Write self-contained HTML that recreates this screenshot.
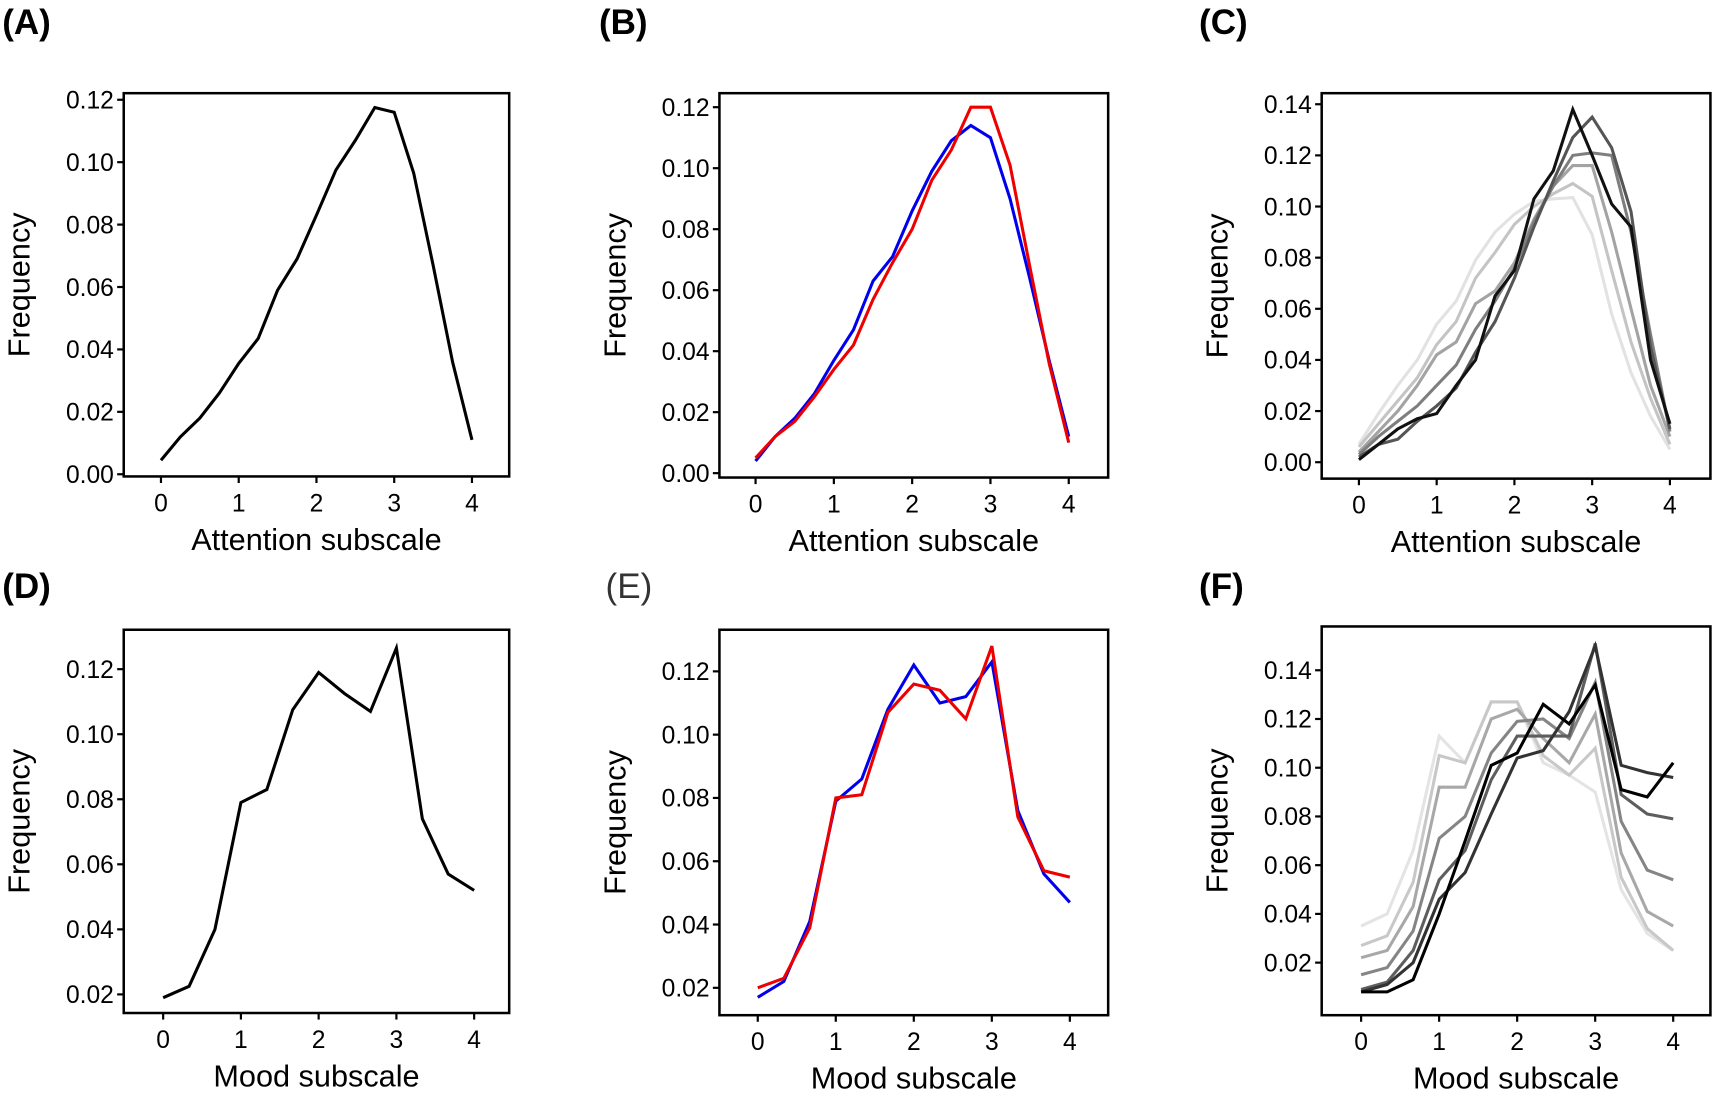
<!DOCTYPE html>
<html><head><meta charset="utf-8"><style>
html,body{margin:0;padding:0;background:#fff;}
svg{display:block;font-family:"Liberation Sans",Arial,sans-serif;}
</style></head><body>
<svg id="fig" width="1717" height="1104" viewBox="0 0 1568 1008" xmlns="http://www.w3.org/2000/svg"></svg>
<script>
const xAtt = [0,0.25,0.5,0.75,1,1.25,1.5,1.75,2,2.25,2.5,2.75,3,3.25,3.5,3.75,4];
const xMood = [0,1/3,2/3,1,4/3,5/3,2,7/3,8/3,3,10/3,11/3,4];
const xTicks = [0,1,2,3,4];
const yTicksAtt = [0,0.02,0.04,0.06,0.08,0.10,0.12];
const yTicksC = [0,0.02,0.04,0.06,0.08,0.10,0.12,0.14];
const yTicksMood = [0.02,0.04,0.06,0.08,0.10,0.12];
const yTicksF = [0.02,0.04,0.06,0.08,0.10,0.12,0.14];

const seriesA = [0.0045,0.012,0.018,0.026,0.0355,0.0435,0.059,0.069,0.083,0.0975,0.107,0.1175,0.116,0.0965,0.067,0.036,0.011];
const seriesBblue = [0.004,0.012,0.018,0.026,0.037,0.047,0.063,0.071,0.086,0.099,0.109,0.114,0.110,0.090,0.064,0.037,0.012];
const seriesBred = [0.005,0.012,0.017,0.025,0.034,0.042,0.057,0.069,0.080,0.096,0.106,0.120,0.120,0.101,0.068,0.036,0.010];
const seriesC1 = [0.007,0.019,0.030,0.040,0.054,0.063,0.079,0.090,0.097,0.102,0.103,0.1035,0.089,0.058,0.035,0.018,0.005];
const seriesC2 = [0.006,0.015,0.024,0.033,0.046,0.055,0.072,0.082,0.093,0.100,0.105,0.109,0.104,0.075,0.047,0.025,0.007];
const seriesC3 = [0.004,0.012,0.020,0.030,0.042,0.047,0.062,0.067,0.078,0.095,0.108,0.116,0.116,0.090,0.060,0.030,0.010];
const seriesC4 = [0.003,0.010,0.016,0.022,0.030,0.038,0.052,0.063,0.076,0.094,0.108,0.120,0.121,0.120,0.090,0.050,0.012];
const seriesC5 = [0.002,0.007,0.009,0.016,0.022,0.029,0.043,0.055,0.072,0.092,0.110,0.127,0.135,0.123,0.098,0.045,0.013];
const seriesC6 = [0.001,0.007,0.013,0.017,0.019,0.030,0.040,0.065,0.075,0.103,0.114,0.138,0.120,0.101,0.092,0.040,0.015];
const seriesD = [0.019,0.0225,0.040,0.079,0.083,0.1075,0.119,0.1125,0.107,0.1265,0.074,0.057,0.052];
const seriesEblue = [0.017,0.022,0.041,0.079,0.086,0.108,0.122,0.110,0.112,0.123,0.076,0.056,0.047];
const seriesEred = [0.020,0.023,0.039,0.080,0.081,0.107,0.116,0.114,0.105,0.128,0.074,0.057,0.055];
const seriesF1 = [0.035,0.040,0.066,0.113,0.102,0.127,0.127,0.102,0.097,0.090,0.050,0.032,0.025];
const seriesF2 = [0.027,0.031,0.053,0.105,0.102,0.127,0.127,0.105,0.097,0.108,0.055,0.034,0.025];
const seriesF3 = [0.022,0.025,0.043,0.092,0.092,0.120,0.124,0.112,0.102,0.122,0.065,0.041,0.035];
const seriesF4 = [0.015,0.018,0.033,0.071,0.080,0.106,0.119,0.120,0.112,0.135,0.078,0.058,0.054];
const seriesF5 = [0.009,0.012,0.025,0.054,0.066,0.095,0.113,0.113,0.113,0.151,0.089,0.081,0.079];
const seriesF6 = [0.008,0.011,0.020,0.046,0.057,0.081,0.104,0.107,0.123,0.150,0.101,0.098,0.096];
const seriesF7 = [0.008,0.008,0.013,0.040,0.070,0.101,0.106,0.126,0.118,0.134,0.091,0.088,0.102];

const NS = "http://www.w3.org/2000/svg";
const svg = document.getElementById('fig');
function el(tag, attrs, parent){
  const e = document.createElementNS(NS, tag);
  for (const k in attrs) e.setAttribute(k, attrs[k]);
  (parent||svg).appendChild(e);
  return e;
}
function fmt(v){ return v.toFixed(2); }

function panel(cfg){
  const g = el('g', {});
  
  
  const [L,R,T,B] = cfg.box;
  const xs = v => cfg.x0 + (v) * cfg.xu;
  const ys = v => cfg.y0 - (v - cfg.yv0) * cfg.yu;
  const lt = el('text', {x: cfg.lx, y: cfg.ly, 'font-size': 32, 'font-weight': cfg.bold ? 'bold' : 'normal', fill: cfg.bold ? '#000' : '#333'}, g);
  lt.textContent = '(' + cfg.id.toUpperCase() + ')';
  
  
  xTicks.forEach(t => {
    const x = xs(t);
    el('line', {x1:x, x2:x, y1:B, y2:B+6, stroke:'#000', 'stroke-width':2}, g);
    const tx = el('text', {x:x, y:B+32, 'font-size':22.5, 'text-anchor':'middle'}, g);
    tx.textContent = t;
    
    
  });
  cfg.yt.forEach(t => {
    const y = ys(t);
    el('line', {x1:L-6, x2:L, y1:y, y2:y, stroke:'#000', 'stroke-width':2}, g);
    const tx = el('text', {x:L-9, y:y+8, 'font-size':22.5, 'text-anchor':'end'}, g);
    tx.textContent = fmt(t);
    
    
  });
  cfg.series.forEach(s => {
    const pts = s.data.map((v,i) => xs(s.x[i]).toFixed(1) + ',' + ys(v).toFixed(1)).join(' ');
    const pl = el('polyline', {points: pts, fill:'none', stroke: s.color, 'stroke-width': 2.8, 'stroke-linejoin':'miter'}, g);
    
    
  });
  const fr = el('rect', {x:L, y:T, width:R-L, height:B-T, fill:'none', stroke:'#000', 'stroke-width':2.3}, g);
  
  
  const xt = el('text', {x:(L+R)/2, y:B+67, 'font-size':28, 'text-anchor':'middle'}, g);
  xt.textContent = cfg.xlabel;
  
  
  const cy = (T+B)/2;
  const yt = el('text', {x:cfg.yx, y:cy, 'font-size':28, 'text-anchor':'middle', transform:'rotate(-90 '+cfg.yx+' '+cy+')'}, g);
  yt.textContent = 'Frequency';
  
  
}

const grays6 = ['#e2e2e2','#c4c4c4','#a3a3a3','#7e7e7e','#555555','#111111'];
const grays7 = ['#e4e4e4','#c8c8c8','#a8a8a8','#858585','#5e5e5e','#333333','#000000'];

panel({id:'a', bold:true, lx:2, ly:31, box:[113,465,85,435], x0:147, xu:71, y0:433, yv0:0, yu:57/0.02, yt:yTicksAtt, yx:27, xlabel:'Attention subscale',
  series:[{name:'line-attention', x:xAtt, data:seriesA, color:'#000'}]});
panel({id:'b', bold:true, lx:547, ly:31, box:[657,1012,85,436], x0:690, xu:71.5, y0:432, yv0:0, yu:55.7/0.02, yt:yTicksAtt, yx:571, xlabel:'Attention subscale',
  series:[{name:'line-blue', x:xAtt, data:seriesBblue, color:'#0000ee'},{name:'line-red', x:xAtt, data:seriesBred, color:'#ee0000'}]});
panel({id:'c', bold:true, lx:1095, ly:31, box:[1207,1562,85,437], x0:1241, xu:71, y0:422, yv0:0, yu:46.7/0.02, yt:yTicksC, yx:1121, xlabel:'Attention subscale',
  series:[seriesC1,seriesC2,seriesC3,seriesC4,seriesC5,seriesC6].map((d,i)=>({name:'line-gray-'+(i+1), x:xAtt, data:d, color:grays6[i]}))});
panel({id:'d', bold:true, lx:2, ly:546, box:[113,465,575,925], x0:149, xu:71, y0:908, yv0:0.02, yu:59.4/0.02, yt:yTicksMood, yx:27, xlabel:'Mood subscale',
  series:[{name:'line-mood', x:xMood, data:seriesD, color:'#000'}]});
panel({id:'e', bold:false, lx:553, ly:546, box:[657,1012,575,927], x0:692, xu:71.25, y0:902, yv0:0.02, yu:57.8/0.02, yt:yTicksMood, yx:571, xlabel:'Mood subscale',
  series:[{name:'line-blue', x:xMood, data:seriesEblue, color:'#0000ee'},{name:'line-red', x:xMood, data:seriesEred, color:'#ee0000'}]});
panel({id:'f', bold:true, lx:1095, ly:546, box:[1207,1562,572,927], x0:1243, xu:71.25, y0:879, yv0:0.02, yu:44.5/0.02, yt:yTicksF, yx:1121, xlabel:'Mood subscale',
  series:[seriesF1,seriesF2,seriesF3,seriesF4,seriesF5,seriesF6,seriesF7].map((d,i)=>({name:'line-gray-'+(i+1), x:xMood, data:d, color:grays7[i]}))});
</script>
</body></html>
